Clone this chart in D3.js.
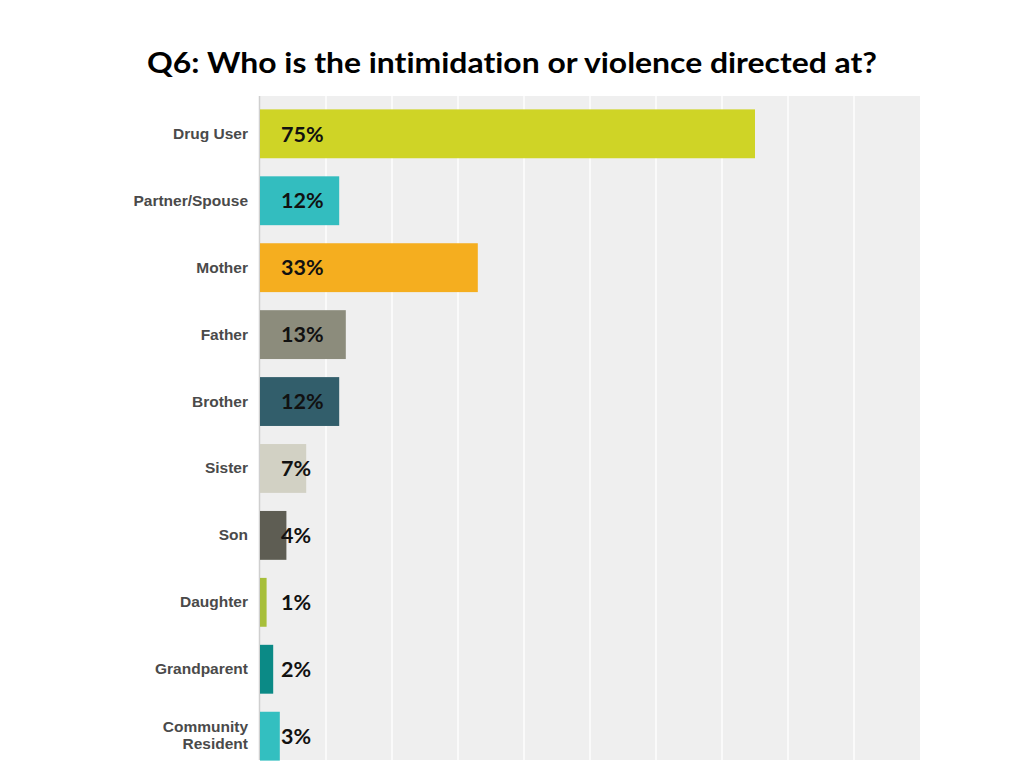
<!DOCTYPE html>
<html>
<head>
<meta charset="utf-8">
<script src="https://cdn.jsdelivr.net/npm/d3@7"></script>
<style>
  body { margin: 0; background: #fff; }
  svg { display: block; }
  text { font-variant-ligatures: none; }
</style>
</head>
<body>
<svg id="chart"></svg>
<script>
// Daten
const categories = ["Drug User", "Partner/Spouse", "Mother", "Father", "Brother",
    "Sister", "Son", "Daughter", "Grandparent", "Community Resident"];
const values = [75, 12, 33, 13, 12, 7, 4, 1, 2, 3];
const valueLabels = ["75%", "12%", "33%", "13%", "12%", "7%", "4%", "1%", "2%", "3%"];
const barColors = ["#cfd426", "#33bdbf", "#f5ae1f", "#8c8c7c", "#325e6b",
    "#d2d1c4", "#5e5d53", "#a7bf3a", "#0b8a86", "#33bfc0"];
const gridTicks = [0, 10, 20, 30, 40, 50, 60, 70, 80, 90, 100];

const width = 1024, height = 768;
const plot = { left: 260, right: 920, top: 96, bottom: 760 };

const svg = d3.select("#chart")
    .attr("width", width)
    .attr("height", height);

// Titel
svg.append("text")
    .attr("x", 512)
    .attr("y", 73)
    .attr("text-anchor", "middle")
    .attr("font-family", "Lato, 'Open Sans', sans-serif")
    .attr("font-weight", "bold")
    .attr("font-size", 28)
    .attr("textLength", 730)
    .attr("lengthAdjust", "spacingAndGlyphs")
    .attr("fill", "#000")
    .text("Q6: Who is the intimidation or violence directed at?");

// Skalen
const xScale = d3.scaleLinear()
    .domain([0, 100])
    .range([plot.left, plot.right]);

const yScale = d3.scaleBand()
    .domain(categories)
    .range([96, 774])
    .paddingInner(0.27)
    .paddingOuter(0.2);

// Hintergrund + Gitter
svg.append("rect")
    .attr("x", plot.left)
    .attr("y", plot.top)
    .attr("width", plot.right - plot.left)
    .attr("height", plot.bottom - plot.top)
    .attr("fill", "#efefef");

svg.append("g")
    .selectAll("line")
    .data(gridTicks.slice(1, -1))
    .join("line")
        .attr("x1", d => xScale(d))
        .attr("x2", d => xScale(d))
        .attr("y1", plot.top)
        .attr("y2", plot.bottom)
        .attr("stroke", "#fafafa")
        .attr("stroke-width", 2);

svg.append("line")
    .attr("x1", xScale(0) - 0.5)
    .attr("x2", xScale(0) - 0.5)
    .attr("y1", plot.top)
    .attr("y2", plot.bottom)
    .attr("stroke", "#cfcfcf")
    .attr("stroke-width", 1.5);

// Balken
const rows = categories.map((c, i) => ({ cat: c, value: values[i], label: valueLabels[i], color: barColors[i] }));

svg.append("g")
    .selectAll("rect")
    .data(rows)
    .join("rect")
        .attr("x", xScale(0))
        .attr("y", d => yScale(d.cat))
        .attr("width", d => xScale(d.value) - xScale(0))
        .attr("height", yScale.bandwidth())
        .attr("fill", d => d.color);

// Kategorien (Achse links)
const yAxis = svg.append("g")
    .attr("transform", `translate(${xScale(0) - 12}, 0)`)
    .call(d3.axisLeft(yScale).tickSize(0).tickPadding(0));
yAxis.select(".domain").remove();
yAxis.selectAll("text")
    .attr("font-family", "'Liberation Sans', Arial, sans-serif")
    .attr("font-weight", "bold")
    .attr("font-size", 15.5)
    .attr("fill", "#4a4a4a")
    .each(function(d) {
        const words = d.split(" ");
        const t = d3.select(this);
        if (words.length > 1 && d.length > 16) {
            t.text(null);
            words.forEach((w, i) => {
                t.append("tspan")
                    .attr("x", 0)
                    .attr("dy", i === 0 ? "-0.3em" : "1.15em")
                    .text(w);
            });
        }
    });

// Prozent-Labels
svg.append("g")
    .selectAll("text")
    .data(rows)
    .join("text")
        .attr("x", xScale(0) + 21)
        .attr("y", d => yScale(d.cat) + yScale.bandwidth() / 2)
        .attr("dy", "0.36em")
        .attr("font-family", "Lato, 'Open Sans', sans-serif")
        .attr("font-weight", "bold")
        .attr("font-size", 21.5)
        .attr("fill", "#111")
        .text(d => d.label);
</script>
</body>
</html>
